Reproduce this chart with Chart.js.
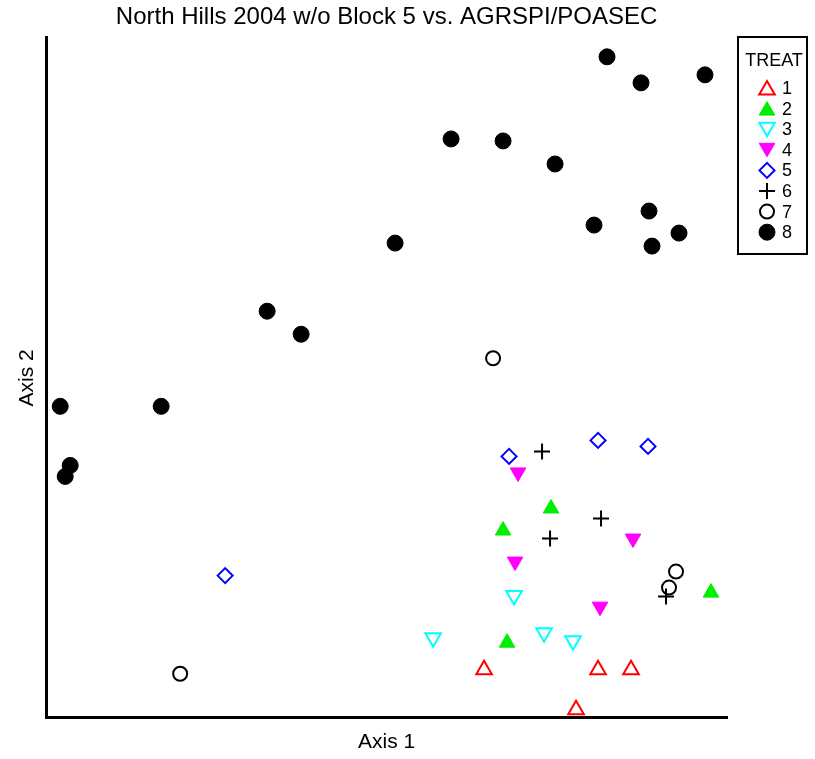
<!DOCTYPE html>
<html>
<head>
<meta charset="utf-8">
<script src="https://cdn.jsdelivr.net/npm/chart.js@4/dist/chart.umd.min.js"></script>
<style>
  html, body { margin: 0; padding: 0; background: #fff; }
  #wrap { width: 815px; height: 759px; }
</style>
</head>
<body>
<div id="wrap"><canvas id="ordChart"></canvas></div>
<script>
// ordination scores (axis units are arbitrary)
const treat1 = [[438, 48], [552, 48], [585, 48], [530, 8]];
const treat2 = [[505, 209], [457, 187], [461, 75], [665, 125]];
const treat3 = [[468, 122], [387, 80], [498, 85], [527, 77]];
const treat4 = [[472, 245], [469, 156], [587, 179], [554, 111]];
const treat5 = [[463, 261], [552, 277], [602, 271], [179, 142]];
const treat6 = [[496, 266], [555, 199], [504, 179], [620, 121]];
const treat7 = [[447, 359], [134, 44], [630, 146], [623, 130]];
const treat8 = [[561, 660], [595, 634], [659, 642], [405, 578], [457, 576], [509, 553],
  [603, 506], [548, 492], [633, 484], [606, 471], [349, 474], [221, 406], [255, 383],
  [14, 311], [115, 311], [24, 252], [19, 241]];

const treatLabels = ['1', '2', '3', '4', '5', '6', '7', '8'];
const treatData = [treat1, treat2, treat3, treat4, treat5, treat6, treat7, treat8];

const styles = [
  { pointStyle: 'triangle', rotation: 0, radius: 9, color: '#ff0000', fill: false },
  { pointStyle: 'triangle', rotation: 0, radius: 9, color: '#00ee00', fill: true },
  { pointStyle: 'triangle', rotation: 180, radius: 9, color: '#00ffff', fill: false },
  { pointStyle: 'triangle', rotation: 180, radius: 9, color: '#ff00ff', fill: true },
  { pointStyle: 'rectRot', rotation: 0, radius: 7.5, color: '#0000ff', fill: false },
  { pointStyle: 'cross', rotation: 0, radius: 8, color: '#000000', fill: false },
  { pointStyle: 'circle', rotation: 0, radius: 7, color: '#000000', fill: false },
  { pointStyle: 'circle', rotation: 0, radius: 8, color: '#000000', fill: true }
];

const datasets = treatData.map((pts, i) => ({
  label: treatLabels[i],
  data: pts.map(p => ({ x: p[0], y: p[1] })),
  pointStyle: styles[i].pointStyle,
  rotation: styles[i].rotation,
  pointRadius: styles[i].radius,
  pointHoverRadius: styles[i].radius,
  borderColor: styles[i].color,
  backgroundColor: styles[i].fill ? styles[i].color : 'rgba(0,0,0,0)',
  borderWidth: styles[i].fill ? 1 : 2,
  showLine: false
}));

// boxed legend in the right margin
const boxLegend = {
  id: 'boxLegend',
  afterDraw(chart) {
    const c = chart.ctx;
    c.save();
    c.lineWidth = 2;
    c.strokeStyle = '#000';
    c.strokeRect(738, 37, 69, 217);
    c.fillStyle = '#000';
    c.font = '18px "Liberation Sans", Arial, sans-serif';
    c.textAlign = 'center';
    c.textBaseline = 'middle';
    c.fillText('TREAT', 774, 61);
    c.textAlign = 'left';
    treatLabels.forEach((lab, i) => {
      const y = 88 + i * 20.6;
      const s = styles[i];
      c.fillStyle = s.fill ? s.color : 'rgba(0,0,0,0)';
      c.strokeStyle = s.color;
      c.lineWidth = s.fill ? 1 : 2;
      let yy = y;
      if (s.pointStyle === 'triangle') yy += s.rotation ? -2 : 2;
      Chart.helpers.drawPoint(c, { pointStyle: s.pointStyle, rotation: s.rotation, radius: s.radius, borderWidth: c.lineWidth }, 767, yy);
      c.fillStyle = '#000';
      c.fillText(lab, 782, y + 1);
    });
    c.restore();
  }
};

const ctx = document.getElementById('ordChart').getContext('2d');
const ordChart = new Chart(ctx, {
  type: 'scatter',
  data: { datasets: datasets },
  options: {
    responsive: true,
    maintainAspectRatio: false,
    animation: false,
    layout: { padding: { left: 0, right: 88, top: 0, bottom: 0 } },
    plugins: {
      legend: { display: false },
      tooltip: { enabled: false },
      title: {
        display: true,
        fullSize: false,
        text: 'North Hills 2004 w/o Block 5 vs. AGRSPI/POASEC',
        color: '#000',
        font: { family: '"Liberation Sans", Arial, sans-serif', size: 24, weight: 'normal' },
        padding: { top: 3, bottom: 6 }
      }
    },
    scales: {
      x: {
        type: 'linear',
        min: 0,
        max: 681,
        grid: { display: false, drawTicks: false },
        ticks: { display: false },
        border: { display: true, color: '#000', width: 3 },
        title: {
          display: true,
          text: 'Axis 1',
          color: '#000',
          font: { family: '"Liberation Sans", Arial, sans-serif', size: 21 },
          padding: { top: 12, bottom: 4 }
        }
      },
      y: {
        type: 'linear',
        min: 0,
        max: 679,
        grid: { display: false, drawTicks: false },
        ticks: { display: false },
        border: { display: true, color: '#000', width: 3 },
        title: {
          display: true,
          text: 'Axis 2',
          color: '#000',
          font: { family: '"Liberation Sans", Arial, sans-serif', size: 21 },
          padding: { top: 15, bottom: 6 }
        }
      }
    }
  },
  plugins: [boxLegend]
});
</script>
</body>
</html>
